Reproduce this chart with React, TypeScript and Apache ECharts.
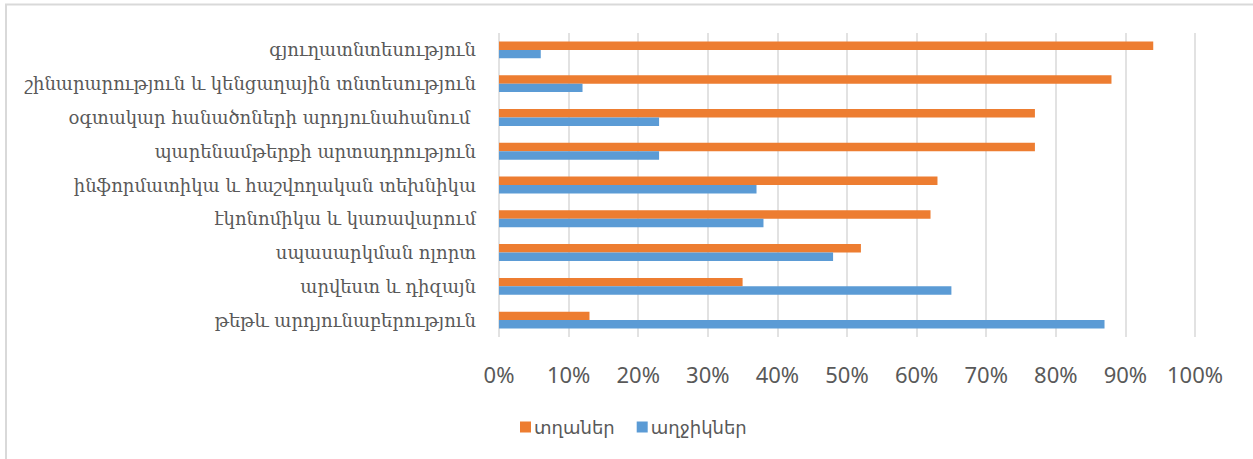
import React, { useEffect, useRef } from "react";
import * as echarts from "echarts";

const categories = [
  "գյուղատնտեսություն",
  "շինարարություն և կենցաղային տնտեսություն",
  "օգտակար հանածոների արդյունահանում ",
  "պարենամթերքի արտադրություն",
  "ինֆորմատիկա և հաշվողական տեխնիկա",
  "էկոնոմիկա և կառավարում",
  "սպասարկման ոլորտ",
  "արվեստ և դիզայն",
  "թեթև արդյունաբերություն",
];
const boys = [94, 88, 77, 77, 63, 62, 52, 35, 13];
const girls = [6, 12, 23, 23, 37, 38, 48, 65, 87];
const seriesNames = ["տղաներ", "աղջիկներ"];

export default function App() {
  const ref = useRef<HTMLDivElement>(null);
  useEffect(() => {
    document.body.style.margin = "0";
    const chart = echarts.init(ref.current!, null, { renderer: "svg" });
    chart.setOption({
      animation: false,
      backgroundColor: "#ffffff",
      color: ["#ED7D31", "#5B9BD5"],
      graphic: [
        {
          type: "rect",
          shape: { x: 6, y: 4.5, width: 1400, height: 600 },
          style: { fill: "none", stroke: "#d9d9d9", lineWidth: 2 },
          silent: true,
        },
      ],
      grid: { left: 499, right: 58, top: 33, bottom: 122, containLabel: false },
      legend: {
        left: 515,
        top: 413,
        itemWidth: 11,
        itemHeight: 11,
        itemGap: 22,
        icon: "rect",
        textStyle: { fontFamily: "DejaVu Sans", fontSize: 18, color: "#595959", padding: [0, 0, 0, -2] },
        data: seriesNames,
      },
      xAxis: {
        type: "value",
        min: 0,
        max: 100,
        interval: 10,
        axisLine: { show: false },
        axisTick: { show: false },
        splitLine: { show: true, lineStyle: { color: "#d9d9d9", width: 1.5 } },
        axisLabel: {
          formatter: "{value}%",
          fontFamily: "Noto Sans",
          fontSize: 22,
          color: "#595959",
          margin: 26,
        },
      },
      yAxis: {
        type: "category",
        inverse: true,
        data: categories,
        axisLine: { show: false },
        axisTick: { show: false },
        axisLabel: {
          fontFamily: "DejaVu Serif",
          fontSize: 18,
          color: "#595959",
          margin: 23,
        },
      },
      series: [
        {
          name: seriesNames[0],
          type: "bar",
          data: boys,
          barCategoryGap: "50%",
          barGap: "0%",
        },
        {
          name: seriesNames[1],
          type: "bar",
          data: girls,
          barCategoryGap: "50%",
          barGap: "0%",
        },
      ],
    });
    return () => chart.dispose();
  }, []);
  return <div ref={ref} style={{ width: 1253, height: 459 }} />;
}
